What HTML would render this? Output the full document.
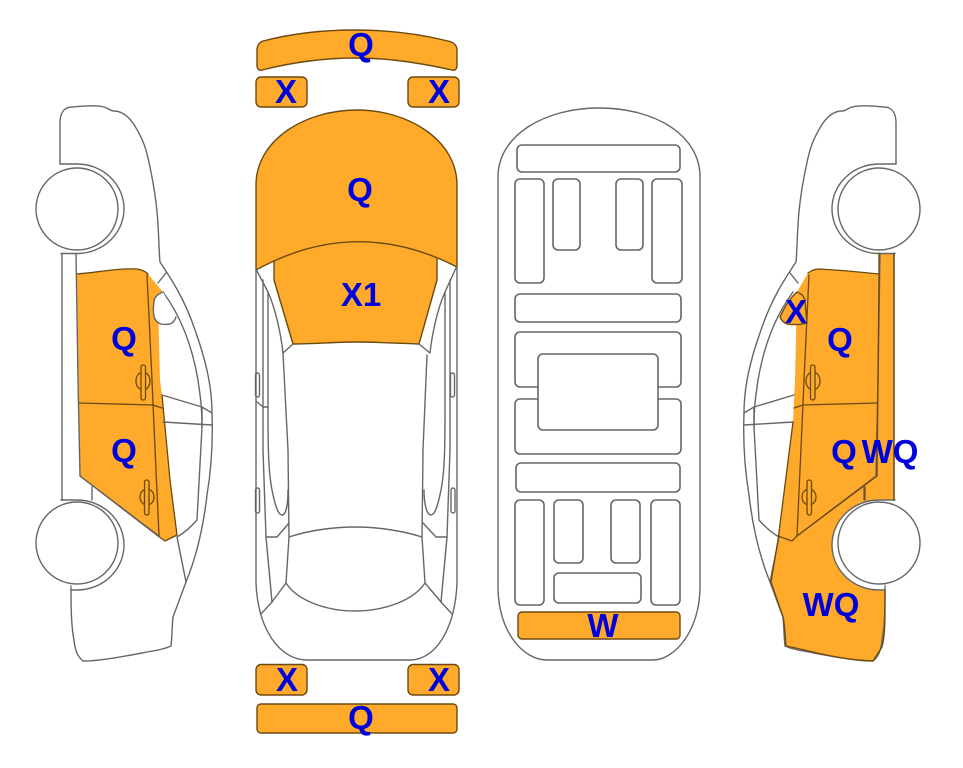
<!DOCTYPE html>
<html><head><meta charset="utf-8">
<style>
html,body{margin:0;padding:0;background:#fff}
svg{display:block}
.l{fill:none;stroke:#666;stroke-width:1.4;stroke-linejoin:round;stroke-linecap:round}
.w{fill:#fff;stroke:#666;stroke-width:1.4}
.o{fill:#FFAA2B;stroke:#6b4a10;stroke-width:1.4;stroke-linejoin:round}
.d{fill:none;stroke:#6b4a10;stroke-width:1.3;stroke-linecap:round;stroke-linejoin:round}
.r rect{fill:#fff;stroke:#666;stroke-width:1.6}
text{font-family:"Liberation Sans",sans-serif;font-weight:bold;font-size:33px;fill:#0000DD;text-anchor:middle}
</style></head>
<body>
<svg width="963" height="768" viewBox="0 0 963 768" xmlns="http://www.w3.org/2000/svg">
<defs>
<g id="side">
<path class="l" d="M60,164V123C60,113 64,107 72,107C85,106 95,105 104,107C108,108 110,111 114,111C122,111 128,116 133,123C140,134 145,144 148,158C153,180 157,205 158,225C159,240 159,252 160,262C172,280 185,300 195,330C205,358 212,385 212,413C213,440 212,465 207,495C203,530 195,560 186,582L173,617C172,628 172,637 171,646C160,651 150,651 142,653C120,657 100,661 83,661C77,656 75,650 74,640C71,625 71,605 71,586"/>
<path class="l" d="M62,253V501M76,253L78,380L80,476L159,536M92,487V500"/>
<path class="l" d="M166,273L158,283M163,292C180,315 192,345 198,380C200,395 202,405 202,427L197,520C190,528 184,533 177,537L186,582"/>
<path class="l" d="M162,395L202,407L212,413M163,422L212,425M202,407L202,427"/>
<path d="M60,164H77A47,44.75 0 0 1 77,253.500H61Z" fill="#fff"/>
<path class="l" d="M60,164H77A47,44.75 0 0 1 77,253.500H61"/>
<path d="M61,500H77A47,45 0 0 1 77,590H72Z" fill="#fff"/>
<path class="l" d="M61,500H77A47,45 0 0 1 77,590H72"/>
<circle class="w" cx="77" cy="209" r="41"/>
<circle class="w" cx="77" cy="543" r="41"/>
</g>
<g id="door">
<path class="d" d="M147,275L152,380L153,404L159,536M79,403L153,405L162,408"/>
<ellipse class="d" cx="143" cy="381" rx="7" ry="9"/>
<rect class="d" x="141" y="365" width="4.5" height="35" rx="2.2" style="fill:#FFAA2B"/>
<ellipse class="d" cx="147" cy="497" rx="7" ry="8"/>
<rect class="d" x="144.500" y="480" width="4.5" height="35" rx="2.2" style="fill:#FFAA2B"/>
</g>
</defs>

<!-- left car -->
<path style="fill:#FFAA2B" d="M77,274C100,272 120,268 137,269C143,270 146,272 148,274L163,292L158,300L160,380L162,395L170,480L177,535L165,541L158,536L80,476L79,403Z"/>
<path class="d" d="M77,274C100,272 120,268 137,269C143,270 146,272 148,274M162,395L170,480L177,535L165,541L158,536L80,476"/>
<use href="#side"/>
<use href="#door"/>
<path d="M163,292C158,294 154,297 154,302C153,308 153,314 155,319C158,325 164,325 170,324C173,323 175,320 176,317Z" fill="#fff"/>
<path class="l" d="M163,292C158,294 154,297 154,302C153,308 153,314 155,319C158,325 164,325 170,324C173,323 175,320 176,317"/>

<!-- right car -->
<path style="fill:#FFAA2B" d="M808,273C812,270 815,269 819,269C840,270 860,272 879,274V253H894V500L885,590V613C885,630 884,640 882,647L873,661C850,660 835,657 817,653C805,650 795,648 786,646C785,635 785,625 783,617L771,582L778,540L793,422L795,380L797,292Z"/>
<g transform="translate(956,0) scale(-1,1)"><use href="#side"/></g>
<path class="d" d="M879,274V253M894,253V500M885,590V613C885,630 884,640 882,647L873,661C850,660 835,657 817,653C805,650 795,648 786,646C785,635 785,625 783,617L771,582L778,540L793,422M808,273C812,270 815,269 819,269C840,270 860,272 879,274"/>
<g transform="translate(956,0) scale(-1,1)"><use href="#door"/></g>
<path class="d" d="M879,274L878,380L877,476L797,536L792,541L778,536M865,487V500"/>
<path class="o" d="M797,292C802,294 805,297 805,302L807,323C800,325 794,325 787,324C784,323 781,320 780,317C784,308 790,298 797,292Z"/>

<!-- top view -->
<path class="o" d="M274,240H437V280L419,344C395,343 375,342 355,342C335,342 315,344 293,344L274,280Z"/>
<path class="o" d="M256,270V185C256,140 305,110 357,110C408,110 457,140 457,185V267Q356,215 256,270Z"/>
<path class="l" d="M256,270V583C258,630 280,660 307,660H410C435,660 455,630 457,583V267"/>
<path class="l" d="M257,271L268,292C276,310 281,335 283,353L293,344M456,268L445,292C437,310 432,335 430,353L419,344"/>
<path class="l" d="M283,353L288,450L289,537L286,583C297,600 325,611 355,611C385,611 414,600 425,583L422,537L423,450L427,355"/>
<path class="l" d="M289,537C310,530 335,527 355,527C375,527 400,530 422,537"/>
<path class="l" d="M263,280V450L266,537L272,602M268,292V407C268,440 268,470 272,490C275,505 278,515 282,515C286,515 288,505 288,490"/>
<path class="l" d="M450,280V450L447,537L441,602M445,292V407C445,440 445,470 441,490C438,505 435,515 431,515C427,515 424,505 424,490"/>
<path class="l" d="M266,537H277L289,523M447,537H436L423,523M261,614L272,602L286,583M452,614L441,602L425,583"/>
<path class="l" d="M256,401L263,407H268"/>
<rect class="l" x="255.500" y="373" width="4" height="24" rx="2"/>
<rect class="l" x="450.500" y="373" width="4" height="24" rx="2"/>
<rect class="l" x="255.500" y="488" width="4" height="25" rx="2"/>
<rect class="l" x="451" y="488" width="4" height="25" rx="2"/>

<!-- bars -->
<path class="o" d="M257,50C257,45 260,42 263,41C290,34 320,30 355,30C390,30 420,34 448,41C453,42 457,45 457,50V65C457,69 455,71 452,70C420,63 390,58 355,58C320,58 290,63 262,70C259,71 257,69 257,65Z"/>
<rect class="o" x="256" y="77" width="51" height="30" rx="5"/>
<rect class="o" x="408" y="77" width="51" height="30" rx="5"/>
<rect class="o" x="256" y="664.500" width="51" height="30.500" rx="5"/>
<rect class="o" x="408" y="664.500" width="51" height="30.500" rx="5"/>
<rect class="o" x="257" y="704" width="200" height="29" rx="4"/>

<!-- underbody -->
<path class="l" d="M498,177C498,135 545,108 599,108C655,108 700,135 700,177V587C700,630 675,660 653,660H547C522,660 498,630 498,587Z"/>
<g class="r">
<rect x="517" y="145" width="163" height="27" rx="5"/>
<rect x="515" y="179" width="29" height="104" rx="5"/>
<rect x="553" y="179" width="27" height="71" rx="5"/>
<rect x="616" y="179" width="27" height="71" rx="5"/>
<rect x="652" y="179" width="30" height="104" rx="5"/>
<rect x="515" y="294" width="166" height="28" rx="5"/>
<rect x="515" y="332" width="166" height="55" rx="5"/>
<rect x="515" y="399" width="166" height="55" rx="5"/>
<rect x="538" y="354" width="120" height="76" rx="5"/>
<rect x="516" y="463" width="164" height="29" rx="5"/>
<rect x="515" y="500" width="29" height="105" rx="5"/>
<rect x="554" y="500" width="29" height="63" rx="5"/>
<rect x="611" y="500" width="29" height="63" rx="5"/>
<rect x="651" y="500" width="29" height="105" rx="5"/>
<rect x="554" y="573" width="87" height="30" rx="5"/>
</g>
<rect class="o" x="518" y="612" width="162" height="27" rx="4"/>

<!-- labels -->
<text x="361" y="56">Q</text>
<text x="286" y="103">X</text>
<text x="439" y="103">X</text>
<text x="360" y="201">Q</text>
<text x="361" y="306">X1</text>
<text x="124" y="350">Q</text>
<text x="124" y="462">Q</text>
<text x="840" y="351">Q</text>
<text x="796" y="323">X</text>
<text x="844" y="463">Q</text>
<text x="890" y="463">WQ</text>
<text x="831" y="616">WQ</text>
<text x="603" y="637">W</text>
<text x="287" y="691">X</text>
<text x="439" y="691">X</text>
<text x="361" y="729">Q</text>
</svg>
</body></html>
